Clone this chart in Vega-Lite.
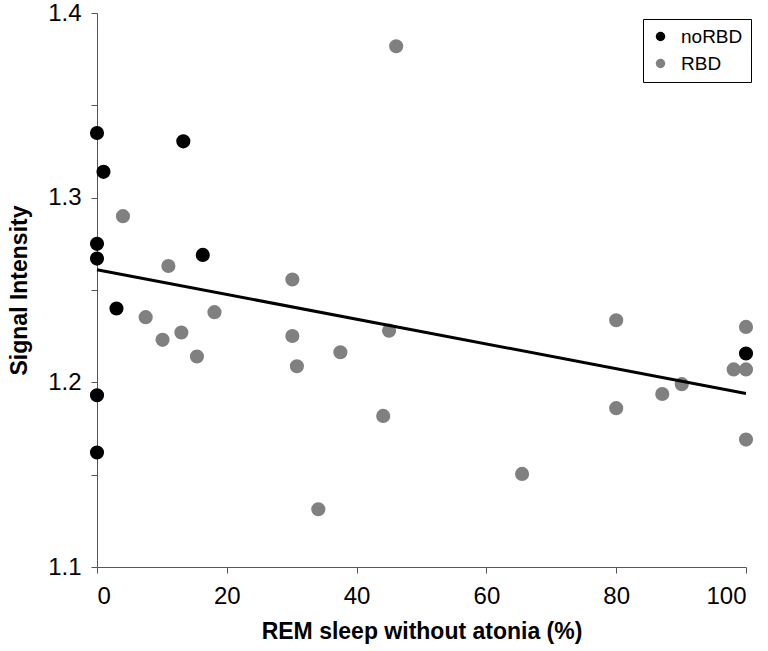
{
  "$schema": "https://vega.github.io/schema/vega-lite/v6.json",
  "width": 649,
  "height": 554,
  "autosize": {"type": "none"},
  "padding": {"left": 97, "top": 13, "right": 22, "bottom": 84},
  "background": "white",
  "config": {
    "view": {"stroke": null},
    "font": "Liberation Sans",
    "axis": {"grid": false, "domainColor": "#555555", "tickColor": "#555555", "labelColor": "#000000", "titleColor": "#000000", "labelFont": "Liberation Sans", "titleFont": "Liberation Sans"}
  },
  "layer": [
    {
      "data": {"values": [
        {"rswa": 0, "si": 1.335, "group": "noRBD"},
        {"rswa": 1.0, "si": 1.314, "group": "noRBD"},
        {"rswa": 13.3, "si": 1.3305, "group": "noRBD"},
        {"rswa": 0, "si": 1.275, "group": "noRBD"},
        {"rswa": 0, "si": 1.267, "group": "noRBD"},
        {"rswa": 16.3, "si": 1.269, "group": "noRBD"},
        {"rswa": 3.0, "si": 1.240, "group": "noRBD"},
        {"rswa": 0, "si": 1.193, "group": "noRBD"},
        {"rswa": 0, "si": 1.162, "group": "noRBD"},
        {"rswa": 100, "si": 1.2156, "group": "noRBD"},
        {"rswa": 4.0, "si": 1.290, "group": "RBD"},
        {"rswa": 11.0, "si": 1.263, "group": "RBD"},
        {"rswa": 7.5, "si": 1.2353, "group": "RBD"},
        {"rswa": 10.1, "si": 1.2230, "group": "RBD"},
        {"rswa": 13.0, "si": 1.2270, "group": "RBD"},
        {"rswa": 15.4, "si": 1.2140, "group": "RBD"},
        {"rswa": 18.1, "si": 1.2380, "group": "RBD"},
        {"rswa": 30.1, "si": 1.2557, "group": "RBD"},
        {"rswa": 30.1, "si": 1.2251, "group": "RBD"},
        {"rswa": 30.8, "si": 1.2087, "group": "RBD"},
        {"rswa": 37.5, "si": 1.2163, "group": "RBD"},
        {"rswa": 45.0, "si": 1.2280, "group": "RBD"},
        {"rswa": 44.1, "si": 1.1818, "group": "RBD"},
        {"rswa": 34.1, "si": 1.1313, "group": "RBD"},
        {"rswa": 65.5, "si": 1.1504, "group": "RBD"},
        {"rswa": 46.1, "si": 1.3820, "group": "RBD"},
        {"rswa": 80.0, "si": 1.2336, "group": "RBD"},
        {"rswa": 80.0, "si": 1.1860, "group": "RBD"},
        {"rswa": 87.1, "si": 1.1937, "group": "RBD"},
        {"rswa": 90.1, "si": 1.1990, "group": "RBD"},
        {"rswa": 98.1, "si": 1.2070, "group": "RBD"},
        {"rswa": 100, "si": 1.2070, "group": "RBD"},
        {"rswa": 100, "si": 1.2300, "group": "RBD"},
        {"rswa": 100, "si": 1.1690, "group": "RBD"}
      ]},
      "mark": {"type": "circle", "size": 200, "opacity": 1},
      "encoding": {
        "x": {"field": "rswa", "type": "quantitative", "scale": {"domain": [0, 100], "nice": false},
          "axis": {"title": "REM sleep without atonia (%)", "values": [0, 20, 40, 60, 80, 100], "labelFontSize": 24, "titleFontSize": 23, "titleFontWeight": "bold", "tickSize": 6, "labelPadding": 11, "titlePadding": 12}},
        "y": {"field": "si", "type": "quantitative", "scale": {"domain": [1.1, 1.4], "nice": false, "zero": false},
          "axis": {"title": "Signal Intensity", "values": [1.1, 1.15, 1.2, 1.25, 1.3, 1.35, 1.4], "format": ".2f",
            "labelExpr": "round(datum.value*100) % 10 == 0 ? format(datum.value, '.1f') : ''",
            "labelFontSize": 24, "titleFontSize": 23, "titleFontWeight": "bold", "tickSize": 6, "labelPadding": 10, "titlePadding": 16}},
        "color": {"field": "group", "type": "nominal",
          "scale": {"domain": ["noRBD", "RBD"], "range": ["#000000", "#808080"]},
          "legend": {"title": null, "orient": "none", "legendX": 546, "legendY": 6, "strokeColor": "#000000", "padding": 8, "labelFontSize": 19, "labelColor": "#000000", "symbolSize": 90, "symbolType": "circle", "rowPadding": 7, "labelOffset": 11, "fillColor": "white"}
        }
      }
    },
    {
      "data": {"values": [
        {"rswa": 0, "si": 1.261},
        {"rswa": 100, "si": 1.194}
      ]},
      "mark": {"type": "line", "color": "#000000", "strokeWidth": 3},
      "encoding": {
        "x": {"field": "rswa", "type": "quantitative"},
        "y": {"field": "si", "type": "quantitative"}
      }
    }
  ]
}
